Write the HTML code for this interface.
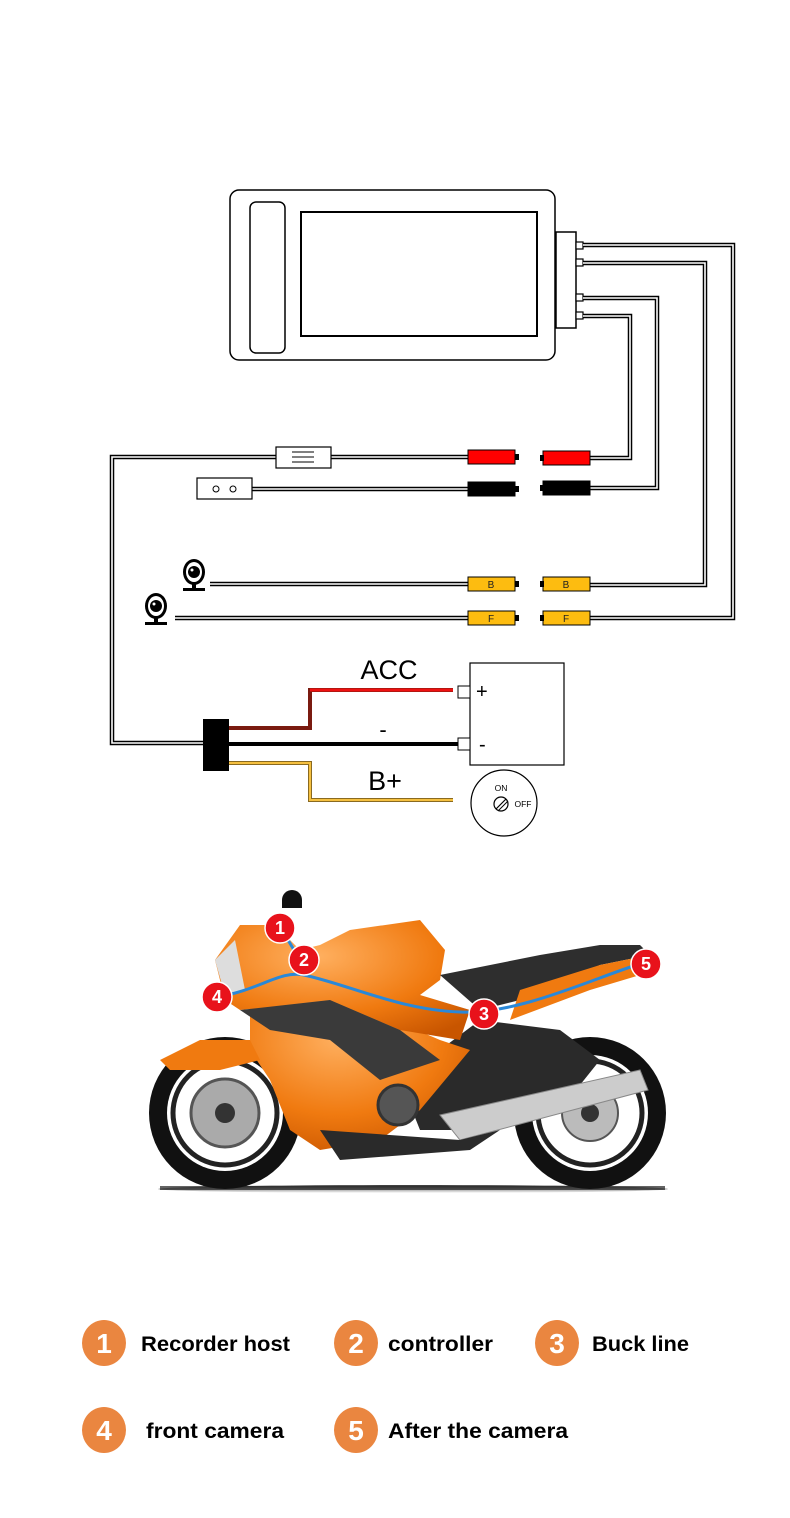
<!DOCTYPE html>
<html><head><meta charset="utf-8"><style>
html,body{margin:0;padding:0;background:#fff}
svg{display:block}
text{font-family:"Liberation Sans","DejaVu Sans",sans-serif}
</style></head><body>
<svg width="790" height="1518" viewBox="0 0 790 1518" xmlns="http://www.w3.org/2000/svg">
<defs>
<radialGradient id="og" cx="0.4" cy="0.3" r="0.8"><stop offset="0" stop-color="#ffb060"/><stop offset="0.6" stop-color="#f07a10"/><stop offset="1" stop-color="#c85500"/></radialGradient>
<linearGradient id="shadow" x1="0" y1="0" x2="0" y2="1"><stop offset="0" stop-color="#000" stop-opacity="0.8"/><stop offset="1" stop-color="#000" stop-opacity="0"/></linearGradient>
</defs>
<!-- Monitor -->
<rect x="230" y="190" width="325" height="170" rx="9" fill="#fff" stroke="#000" stroke-width="1.5"/>
<rect x="250" y="202" width="35" height="151" rx="6" fill="#fff" stroke="#000" stroke-width="1.5"/>
<rect x="301" y="212" width="236" height="124" fill="#fff" stroke="#000" stroke-width="2"/>
<rect x="556" y="232" width="20" height="96" fill="#fff" stroke="#000" stroke-width="1.5"/>
<g fill="#fff" stroke="#000" stroke-width="1.2">
<rect x="576" y="242" width="7" height="7"/><rect x="576" y="259" width="7" height="7"/>
<rect x="576" y="294" width="7" height="7"/><rect x="576" y="312" width="7" height="7"/>
</g>
<!-- double wires -->
<g fill="none" stroke-linejoin="miter">
<g stroke="#000" stroke-width="4.5">
<polyline points="583,245 733,245 733,618 590,618"/>
<polyline points="583,263 705,263 705,585 590,585"/>
<polyline points="583,298 657,298 657,488 590,488"/>
<polyline points="583,316 630,316 630,458 590,458"/>
<polyline points="468,457 331,457"/><polyline points="276,457 112,457 112,743 203,743"/>
<polyline points="468,489 252,489"/>
<polyline points="468,584 210,584"/>
<polyline points="468,618 175,618"/>
</g>
<g stroke="#fff" stroke-width="1.6">
<polyline points="583,245 733,245 733,618 590,618"/>
<polyline points="583,263 705,263 705,585 590,585"/>
<polyline points="583,298 657,298 657,488 590,488"/>
<polyline points="583,316 630,316 630,458 590,458"/>
<polyline points="468,457 331,457"/><polyline points="276,457 112,457 112,743 203,743"/>
<polyline points="468,489 252,489"/>
<polyline points="468,584 210,584"/>
<polyline points="468,618 175,618"/>
</g>
</g>
<!-- fuse & switch boxes -->
<rect x="276" y="447" width="55" height="21" fill="#fff" stroke="#000" stroke-width="1.2"/>
<g stroke="#000" stroke-width="1"><line x1="292" y1="452" x2="314" y2="452"/><line x1="292" y1="457" x2="314" y2="457"/><line x1="292" y1="462" x2="314" y2="462"/></g>
<rect x="197" y="478" width="55" height="21" fill="#fff" stroke="#000" stroke-width="1.2"/>
<circle cx="216" cy="489" r="3" fill="none" stroke="#000"/><circle cx="233" cy="489" r="3" fill="none" stroke="#000"/>
<!-- connectors -->
<g stroke="#000" stroke-width="1">
<rect x="468" y="450" width="47" height="14" fill="#f00"/><rect x="543" y="451" width="47" height="14" fill="#f00"/>
<rect x="468" y="482" width="47" height="14" fill="#000"/><rect x="543" y="481" width="47" height="14" fill="#000"/>
<rect x="468" y="577" width="47" height="14" fill="#fdbc10"/><rect x="543" y="577" width="47" height="14" fill="#fdbc10"/>
<rect x="468" y="611" width="47" height="14" fill="#fdbc10"/><rect x="543" y="611" width="47" height="14" fill="#fdbc10"/>
</g>
<g fill="#000">
<rect x="515" y="454" width="4" height="6"/><rect x="540" y="455" width="4" height="6"/>
<rect x="515" y="486" width="4" height="6"/><rect x="540" y="485" width="4" height="6"/>
<rect x="515" y="581" width="4" height="6"/><rect x="540" y="581" width="4" height="6"/>
<rect x="515" y="615" width="4" height="6"/><rect x="540" y="615" width="4" height="6"/>
</g>
<g font-size="10" fill="#222" text-anchor="middle">
<text x="491" y="588">B</text><text x="566" y="588">B</text>
<text x="491" y="622">F</text><text x="566" y="622">F</text>
</g>
<!-- cameras -->
<g>
<ellipse cx="194" cy="572" rx="11" ry="13" fill="#000"/><ellipse cx="194" cy="572" rx="8" ry="10" fill="#fff"/><circle cx="194" cy="572" r="6" fill="#000"/><circle cx="192" cy="570" r="1.5" fill="#fff"/>
<rect x="192" y="584" width="4" height="5" fill="#000"/><rect x="183" y="588" width="22" height="3" fill="#000"/>
<ellipse cx="156" cy="606" rx="11" ry="13" fill="#000"/><ellipse cx="156" cy="606" rx="8" ry="10" fill="#fff"/><circle cx="156" cy="606" r="6" fill="#000"/><circle cx="154" cy="604" r="1.5" fill="#fff"/>
<rect x="154" y="618" width="4" height="5" fill="#000"/><rect x="145" y="622" width="22" height="3" fill="#000"/>
</g>
<!-- power section -->
<polyline points="229,728 310,728 310,690 453,690" fill="none" stroke="#7a1a10" stroke-width="4"/>
<polyline points="310,690 453,690" fill="none" stroke="#e11" stroke-width="3"/>
<line x1="229" y1="744" x2="459" y2="744" stroke="#000" stroke-width="4"/>
<polyline points="229,763 310,763 310,800 453,800" fill="none" stroke="#8a6a20" stroke-width="4"/>
<polyline points="229,763 310,763 310,800 453,800" fill="none" stroke="#f5c040" stroke-width="2"/>
<rect x="203" y="719" width="26" height="52" fill="#000"/>
<rect x="470" y="663" width="94" height="102" fill="#fff" stroke="#000" stroke-width="1.2"/>
<rect x="458" y="686" width="12" height="12" fill="#fff" stroke="#000"/>
<rect x="458" y="738" width="12" height="12" fill="#fff" stroke="#000"/>
<text x="476" y="698" font-size="20">+</text>
<text x="479" y="751" font-size="20">-</text>
<text x="389" y="679" font-size="27" text-anchor="middle">ACC</text>
<text x="383" y="737" font-size="22" text-anchor="middle">-</text>
<text x="385" y="790" font-size="27" text-anchor="middle">B+</text>
<circle cx="504" cy="803" r="33" fill="#fff" stroke="#000" stroke-width="1.2"/>
<text x="501" y="791" font-size="8.5" text-anchor="middle">ON</text>
<text x="523" y="807" font-size="8.5" text-anchor="middle">OFF</text>
<circle cx="501" cy="804" r="7" fill="none" stroke="#000" stroke-width="1.2"/><line x1="496" y1="809" x2="506" y2="799" stroke="#000" stroke-width="1.2"/><line x1="498" y1="811" x2="508" y2="801" stroke="#000" stroke-width="1"/>
<!-- motorcycle -->
<ellipse cx="413" cy="1189" rx="255" ry="4" fill="url(#shadow)"/>
<rect x="160" y="1186" width="505" height="4" fill="#222" opacity="0.7"/>
<circle cx="225" cy="1113" r="76" fill="#111"/><circle cx="225" cy="1113" r="58" fill="#fff"/><circle cx="225" cy="1113" r="52" fill="none" stroke="#222" stroke-width="5"/>
<circle cx="225" cy="1113" r="34" fill="#aaa" stroke="#555" stroke-width="3"/><circle cx="225" cy="1113" r="10" fill="#333"/>
<circle cx="590" cy="1113" r="76" fill="#111"/><circle cx="590" cy="1113" r="58" fill="#fff"/><circle cx="590" cy="1113" r="52" fill="none" stroke="#222" stroke-width="5"/>
<circle cx="590" cy="1113" r="28" fill="#bbb" stroke="#555" stroke-width="2"/><circle cx="590" cy="1113" r="9" fill="#333"/>
<path d="M400 1080 L480 1020 L560 1030 L600 1060 L560 1110 L470 1130 L420 1130 Z" fill="#2a2a2a"/>
<path d="M440 1115 L640 1070 L648 1090 L460 1140 Z" fill="#ccc" stroke="#888"/>
<path d="M250 1000 L300 990 L370 1010 L440 1040 L470 1050 L420 1110 L380 1140 L320 1150 L290 1130 L270 1080 L250 1050 Z" fill="url(#og)"/>
<path d="M160 1060 L200 1040 L250 1040 L260 1060 L220 1070 L170 1070 Z" fill="#f07a10"/>
<path d="M320 1130 L460 1140 L500 1130 L470 1150 L340 1160 Z" fill="#2a2a2a"/>
<circle cx="398" cy="1105" r="20" fill="#555" stroke="#333" stroke-width="3"/>
<path d="M215 960 L240 925 L275 925 L300 950 L320 945 L350 930 L420 920 L445 950 L440 980 L420 995 L470 1010 L460 1040 L400 1030 L330 1000 L240 1010 L225 1000 Z" fill="url(#og)"/>
<path d="M440 975 L540 955 L600 945 L640 945 L650 955 L600 965 L520 1000 L480 1010 Z" fill="#2e2e2e"/>
<path d="M520 990 L600 965 L650 955 L640 975 L590 990 L510 1020 Z" fill="#f07a10"/>
<path d="M240 1010 L330 1000 L400 1030 L440 1060 L380 1080 L330 1040 L270 1030 Z" fill="#3a3a3a"/>
<path d="M215 960 L235 940 L245 990 L225 995 Z" fill="#ddd"/>
<path d="M282 900 a10 10 0 1 1 20 0 l0 8 l-20 0 Z" fill="#111"/>
<path d="M217 997 C260 990 280 970 304 975 C350 985 400 1010 460 1012 C520 1015 600 975 646 962" fill="none" stroke="#2a88d8" stroke-width="3"/>
<line x1="285" y1="935" x2="300" y2="960" stroke="#2a88d8" stroke-width="3"/>
<g fill="#e8121b" stroke="#fff" stroke-width="1.5">
<circle cx="280" cy="928" r="15"/><circle cx="304" cy="960" r="15"/><circle cx="217" cy="997" r="15"/><circle cx="484" cy="1014" r="15"/><circle cx="646" cy="964" r="15"/>
</g>
<g fill="#fff" font-size="18" font-weight="bold" text-anchor="middle">
<text x="280" y="934">1</text><text x="304" y="966">2</text><text x="217" y="1003">4</text><text x="484" y="1020">3</text><text x="646" y="970">5</text>
</g>
<!-- legend -->
<g fill="#ea8640">
<ellipse cx="104" cy="1343" rx="22" ry="23"/><ellipse cx="356" cy="1343" rx="22" ry="23"/><ellipse cx="557" cy="1343" rx="22" ry="23"/>
<ellipse cx="104" cy="1430" rx="22" ry="23"/><ellipse cx="356" cy="1430" rx="22" ry="23"/>
</g>
<g fill="#fff" font-size="28" font-weight="bold" text-anchor="middle">
<text x="104" y="1353">1</text><text x="356" y="1353">2</text><text x="557" y="1353">3</text><text x="104" y="1440">4</text><text x="356" y="1440">5</text>
</g>
<g fill="#000" font-size="21" font-weight="bold" lengthAdjust="spacingAndGlyphs">
<text x="141" y="1351" textLength="149" lengthAdjust="spacingAndGlyphs">Recorder host</text>
<text x="388" y="1351" textLength="105" lengthAdjust="spacingAndGlyphs">controller</text>
<text x="592" y="1351" textLength="97" lengthAdjust="spacingAndGlyphs">Buck line</text>
<text x="146" y="1438" textLength="138" lengthAdjust="spacingAndGlyphs">front camera</text>
<text x="388" y="1438" textLength="180" lengthAdjust="spacingAndGlyphs">After the camera</text>
</g>
</svg>
</body></html>
